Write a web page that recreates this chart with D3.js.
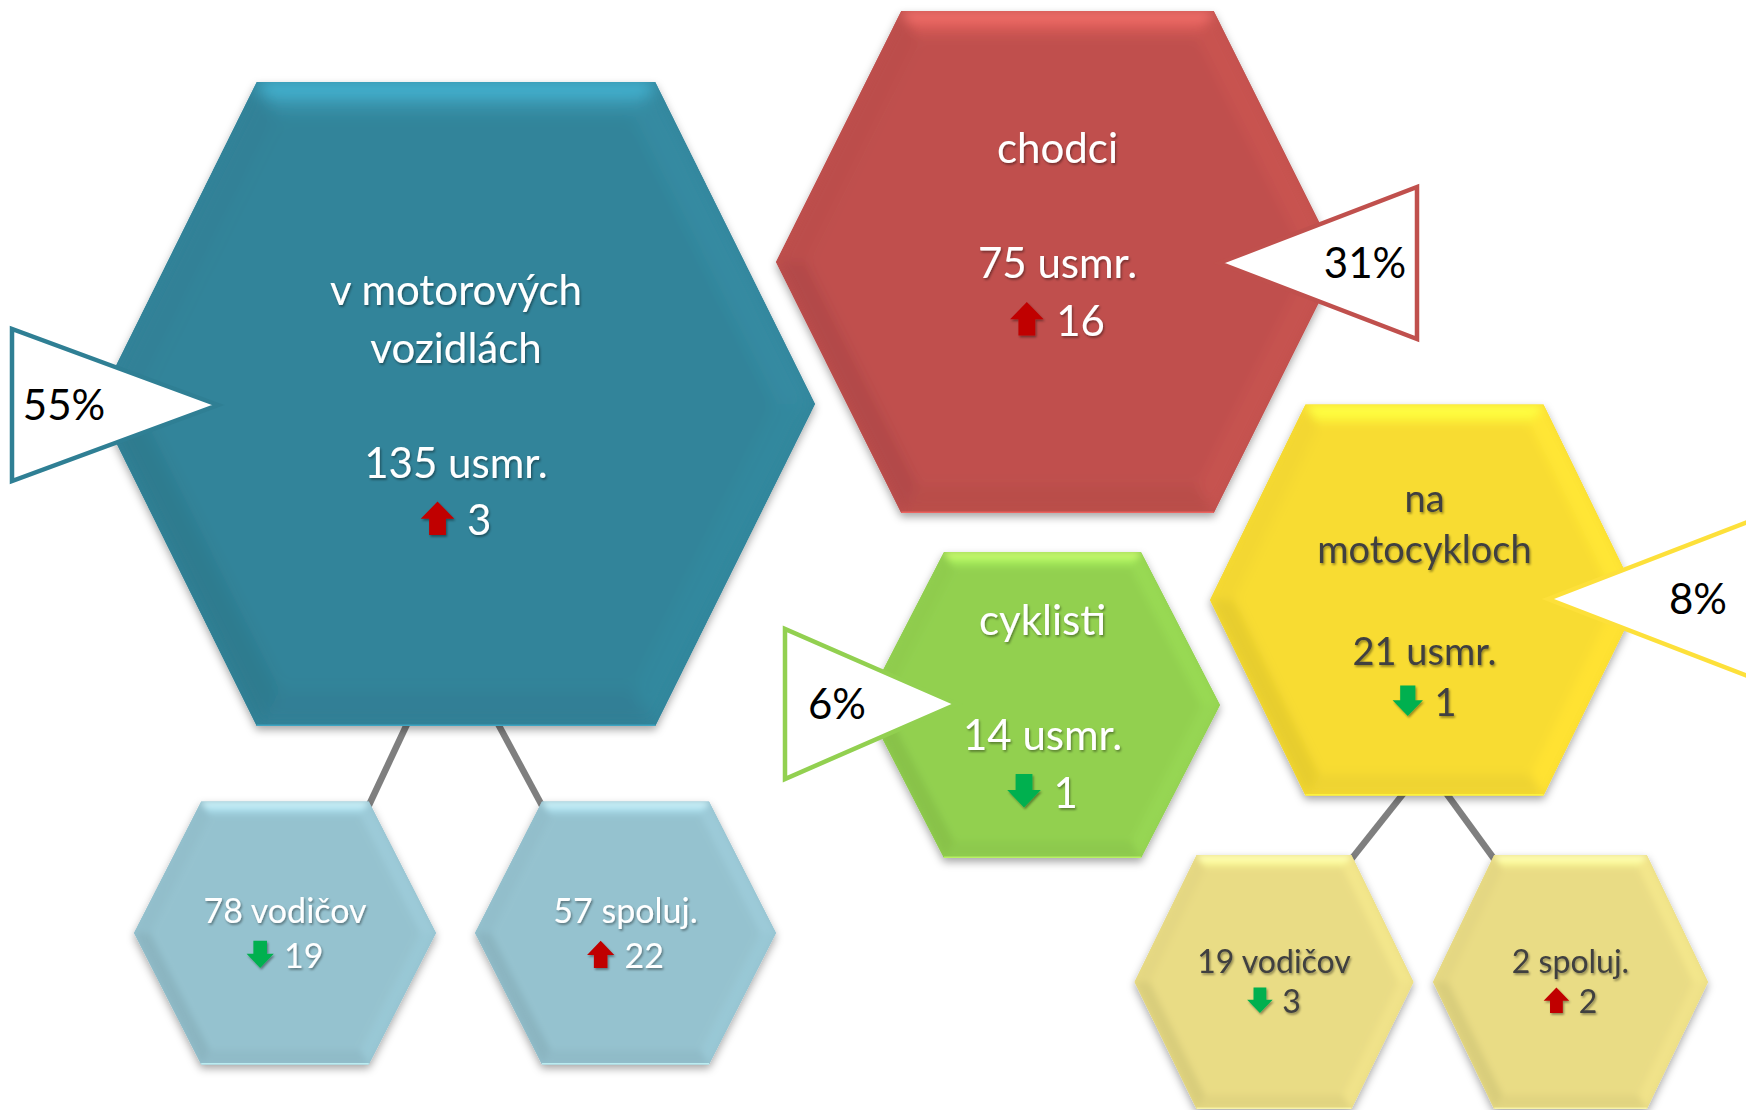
<!DOCTYPE html>
<html>
<head>
<meta charset="utf-8">
<script src="https://cdn.jsdelivr.net/npm/d3@7"></script>
<style>
html, body { margin: 0; padding: 0; background: #fff; }
svg { display: block; }
text { font-family: Lato, "Open Sans", sans-serif; }
</style>
</head>
<body>
<svg id="chart" width="1746" height="1110"></svg>
<script>
// --- data ---
var categories = ["v motorových vozidlách", "chodci", "cyklisti", "na motocykloch"];
var labelLines = [["v motorových", "vozidlách"], ["chodci"], ["cyklisti"], ["na", "motocykloch"]];
var killed = [135, 75, 14, 21];
var change = [3, 16, -1, -1];
var share = [55, 31, 6, 8];

var subParent = [0, 0, 3, 3];
var subLabels = ["vodičov", "spoluj.", "vodičov", "spoluj."];
var subKilled = [78, 57, 19, 2];
var subChange = [-19, 22, -3, 2];

// --- layout (pixels) ---
var hexLayout = [
  {cx: 456,    cy: 404, hw: 359,   hh: 322,   first: -99, lh: 57.5, size: 42},
  {cx: 1057.5, cy: 262, hw: 281.5, hh: 251,   first: -99, lh: 57.5, size: 42},
  {cx: 1042.5, cy: 705, hw: 177.5, hh: 153,   first: -70, lh: 57.5, size: 42},
  {cx: 1424.5, cy: 600, hw: 214.5, hh: 195.5, first: -88, lh: 51,   size: 38}
];
var calloutLayout = [
  {tx: 218,  ty: 405, bx: 12,   bh: 76},
  {tx: 1219, ty: 263, bx: 1417, bh: 76},
  {tx: 957,  ty: 704, bx: 785,  bh: 75},
  {tx: 1548, ty: 599, bx: 1750, bh: 78}
];
var subLayout = [
  {cx: 285,    cy: 933, hw: 151,   hh: 131.5, first: -10, lh: 45, size: 34, jx: -48},
  {cx: 625.5,  cy: 933, hw: 150.5, hh: 131.5, first: -10, lh: 45, size: 34, jx: 41},
  {cx: 1274,   cy: 982, hw: 139.5, hh: 127,   first: -9,  lh: 40, size: 32, jx: -19.5},
  {cx: 1570.5, cy: 982, hw: 137.5, hh: 127,   first: -9,  lh: 40, size: 32, jx: 20.5}
];

var color = d3.scaleOrdinal(categories, ["#32849a", "#c0504d", "#92d050", "#f8dc32"]);
var lightColor = d3.scaleOrdinal(categories, ["#95c2cf", "#e0a9a7", "#c8e7a8", "#e9dc85"]);
var strokeColor = d3.scaleOrdinal(categories, ["#2f7f94", "#c0504d", "#92d050", "#fde03a"]);
var textColor = d3.scaleOrdinal(categories, ["#ffffff", "#ffffff", "#ffffff", "#404040"]);

var svg = d3.select("#chart");
var defs = svg.append("defs");

var f = defs.append("filter").attr("id", "shadow")
  .attr("x", "-10%").attr("y", "-10%").attr("width", "120%").attr("height", "125%");
f.append("feDropShadow").attr("dx", 0).attr("dy", 4).attr("stdDeviation", 4)
  .attr("flood-color", "#000").attr("flood-opacity", 0.35);

var ft = defs.append("filter").attr("id", "tshadow")
  .attr("x", "-10%").attr("y", "-20%").attr("width", "130%").attr("height", "150%");
ft.append("feDropShadow").attr("dx", 1.2).attr("dy", 1.8).attr("stdDeviation", 1.3)
  .attr("flood-color", "#000").attr("flood-opacity", 0.4);

var poly = d3.line().curve(d3.curveLinearClosed);

function hexPoints(L) {
  var th = L.hw * 0.555;
  return [[L.cx - L.hw, L.cy], [L.cx - th, L.cy - L.hh], [L.cx + th, L.cy - L.hh],
          [L.cx + L.hw, L.cy], [L.cx + th, L.cy + L.hh], [L.cx - th, L.cy + L.hh]];
}

// offset every edge inward by b and intersect neighbours
function inset(pts, b) {
  var n = pts.length, cx = d3.mean(pts, function(p) { return p[0]; }), cy = d3.mean(pts, function(p) { return p[1]; });
  var lines = pts.map(function(p, i) {
    var q = pts[(i + 1) % n];
    var dx = q[0] - p[0], dy = q[1] - p[1], len = Math.hypot(dx, dy);
    var nx = -dy / len, ny = dx / len;
    if ((cx - (p[0] + q[0]) / 2) * nx + (cy - (p[1] + q[1]) / 2) * ny < 0) { nx = -nx; ny = -ny; }
    return [p[0] + nx * b, p[1] + ny * b, dx, dy];
  });
  return pts.map(function(p, i) {
    var l1 = lines[(i - 1 + n) % n], l2 = lines[i];
    var den = l1[2] * l2[3] - l1[3] * l2[2];
    var t = ((l2[0] - l1[0]) * l2[3] - (l2[1] - l1[1]) * l2[2]) / den;
    return [l1[0] + t * l1[2], l1[1] + t * l1[3]];
  });
}

var hexId = 0;
function drawHex(L, c) {
  var pts = hexPoints(L), b = L.hh * 0.11, inner = inset(pts, b);
  var id = hexId++;
  var base = d3.rgb(c);

  svg.append("path").attr("d", poly(pts)).attr("fill", c).attr("filter", "url(#shadow)");

  defs.append("clipPath").attr("id", "clip" + id)
    .append("path").attr("d", poly(pts));
  defs.append("filter").attr("id", "soft" + id)
    .attr("x", "-5%").attr("y", "-5%").attr("width", "110%").attr("height", "110%")
    .append("feGaussianBlur").attr("stdDeviation", b * 0.22);

  var grad = defs.append("linearGradient").attr("id", "top" + id)
    .attr("x1", 0).attr("y1", 0).attr("x2", 0).attr("y2", 1);
  grad.append("stop").attr("offset", 0).attr("stop-color", base.brighter(1.25).formatHex());
  grad.append("stop").attr("offset", 0.45).attr("stop-color", base.brighter(0.45).formatHex());
  grad.append("stop").attr("offset", 1).attr("stop-color", base.formatHex());

  var g = svg.append("g").attr("clip-path", "url(#clip" + id + ")");
  g.append("path").attr("d", poly(pts)).attr("fill", c);

  var shades = [base.darker(0.06), "url(#top" + id + ")", base.brighter(0.12),
                base.brighter(0.08), base.darker(0.1), base.darker(0.2)];
  var facets = g.append("g").attr("filter", "url(#soft" + id + ")");
  shades.forEach(function(s, i) {
    facets.append("path")
      .attr("d", poly([pts[i], pts[(i + 1) % 6], inner[(i + 1) % 6], inner[i]]))
      .attr("fill", typeof s === "string" ? s : s.formatHex());
  });
  facets.append("path").attr("d", poly(inner)).attr("fill", c);

  // thin highlight along the bottom edge
  g.append("line")
    .attr("x1", pts[5][0]).attr("y1", pts[5][1]).attr("x2", pts[4][0]).attr("y2", pts[4][1])
    .attr("stroke", base.brighter(0.9).formatHex()).attr("stroke-width", 3).attr("opacity", 0.7);
}

function arrowPath(x, y, s, up) {
  var p = up
    ? [[x + s / 2, y - s], [x + s, y - s * 0.48], [x + s * 0.75, y - s * 0.48], [x + s * 0.75, y],
       [x + s * 0.25, y], [x + s * 0.25, y - s * 0.48], [x, y - s * 0.48]]
    : [[x + s / 2, y], [x + s, y - s * 0.52], [x + s * 0.75, y - s * 0.52], [x + s * 0.75, y - s],
       [x + s * 0.25, y - s], [x + s * 0.25, y - s * 0.52], [x, y - s * 0.52]];
  return poly(p);
}

function drawChange(cx, y, v, size, fill) {
  var a = size * 0.8, gap = size * 0.3;
  var t = svg.append("text").attr("y", y).attr("font-size", size).attr("fill", fill)
    .attr("filter", "url(#tshadow)").text(Math.abs(v));
  var tw = t.node().getComputedTextLength();
  var x0 = cx - (a + gap + tw) / 2;
  t.attr("x", x0 + a + gap);
  svg.append("path").attr("d", arrowPath(x0, y, a, v > 0))
    .attr("fill", v > 0 ? "#c00000" : "#00b050").attr("filter", "url(#tshadow)");
}

// connectors under the hexes
subLayout.forEach(function(S, j) {
  var P = hexLayout[subParent[j]];
  var th = S.hw * 0.555;
  var ex = S.jx < 0 ? S.cx + th : S.cx - th;
  svg.append("line")
    .attr("x1", P.cx + S.jx).attr("y1", P.cy + P.hh - 4)
    .attr("x2", ex).attr("y2", S.cy - S.hh + 4)
    .attr("stroke", "#7f7f7f").attr("stroke-width", 6.5);
});

// small hexes
subLayout.forEach(function(S, j) {
  var cat = categories[subParent[j]];
  drawHex(S, lightColor(cat));
  svg.append("text").attr("x", S.cx).attr("y", S.cy + S.first)
    .attr("text-anchor", "middle").attr("font-size", S.size)
    .attr("fill", textColor(cat)).attr("filter", "url(#tshadow)")
    .text(subKilled[j] + " " + subLabels[j]);
  drawChange(S.cx, S.cy + S.first + S.lh, subChange[j], S.size, textColor(cat));
});

// main hexes
hexLayout.forEach(function(L, i) {
  var cat = categories[i];
  drawHex(L, color(cat));
  var lines = labelLines[i].concat([""], [killed[i] + " usmr."]);
  lines.forEach(function(t, k) {
    svg.append("text").attr("x", L.cx).attr("y", L.cy + L.first + k * L.lh)
      .attr("text-anchor", "middle").attr("font-size", L.size)
      .attr("fill", textColor(cat)).attr("filter", "url(#tshadow)").text(t);
  });
  drawChange(L.cx, L.cy + L.first + lines.length * L.lh, change[i], L.size, textColor(cat));
});

// percentage callouts
calloutLayout.forEach(function(C, i) {
  var cat = categories[i];
  svg.append("path")
    .attr("d", poly([[C.tx, C.ty], [C.bx, C.ty - C.bh], [C.bx, C.ty + C.bh]]))
    .attr("fill", "#fff").attr("stroke", strokeColor(cat)).attr("stroke-width", 4.5)
    .attr("stroke-linejoin", "miter");
  var dir = C.bx < C.tx ? 1 : -1;
  svg.append("text").attr("x", C.bx + dir * 52).attr("y", C.ty + 15)
    .attr("text-anchor", "middle").attr("font-size", 42).attr("fill", "#000")
    .text(share[i] + "%");
});
</script>
</body>
</html>
